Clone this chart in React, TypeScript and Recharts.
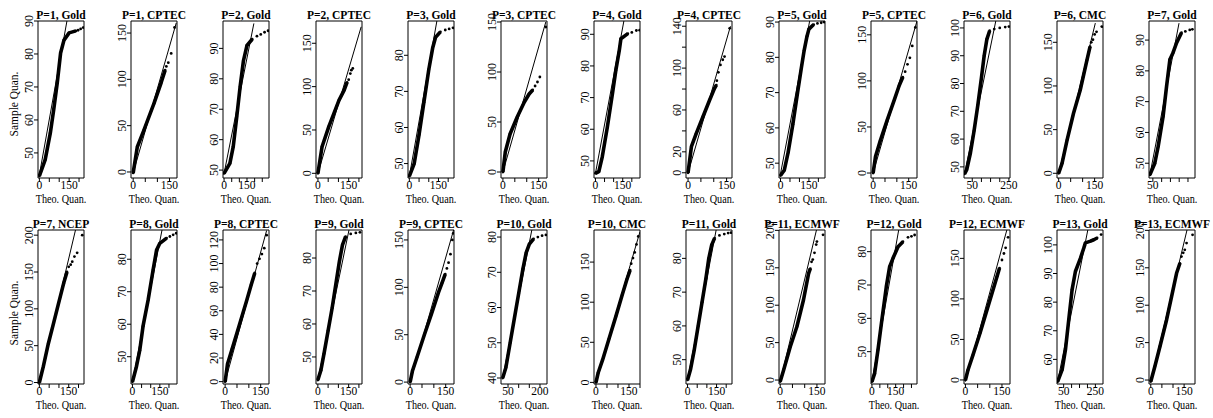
import React from "react";
import {
  ComposedChart,
  Scatter,
  XAxis,
  YAxis,
  ReferenceLine,
  ReferenceArea,
} from "recharts";

const titles = [
  "P=1, Gold", "P=1, CPTEC", "P=2, Gold", "P=2, CPTEC", "P=3, Gold", "P=3, CPTEC", "P=4, Gold",
  "P=4, CPTEC", "P=5, Gold", "P=5, CPTEC", "P=6, Gold", "P=6, CMC", "P=7, Gold",
  "P=7, NCEP", "P=8, Gold", "P=8, CPTEC", "P=9, Gold", "P=9, CPTEC", "P=10, Gold",
  "P=10, CMC", "P=11, Gold", "P=11, ECMWF", "P=12, Gold", "P=12, ECMWF", "P=13, Gold",
  "P=13, ECMWF",
];

const xDomains = [
  [-7, 225], [-9, 181], [-7, 294], [-9.5, 215], [-7, 230], [-8, 185], [-8, 245],
  [-8, 171], [-8, 235], [-9, 185], [5, 256], [-7, 185], [28, 290],
  [-7, 228], [-8, 244], [-9, 185], [-9, 215], [-9, 185], [17, 233],
  [-9, 200], [-8, 230], [-5, 183], [-6, 285], [-6, 183], [8, 298], [-8, 199],
];

const xTicks = [
  [0, 50, 100, 150, 200], [0, 50, 100, 150], [0, 50, 100, 150, 200, 250], [0, 50, 100, 150, 200],
  [0, 50, 100, 150, 200], [0, 50, 100, 150], [0, 50, 100, 150, 200], [0, 50, 100, 150],
  [0, 50, 100, 150, 200], [0, 50, 100, 150], [50, 100, 150, 200, 250], [0, 50, 100, 150],
  [50, 100, 150, 200, 250],
  [0, 50, 100, 150, 200], [0, 50, 100, 150, 200], [0, 50, 100, 150], [0, 50, 100, 150, 200],
  [0, 50, 100, 150], [50, 100, 150, 200], [0, 50, 100, 150, 200], [0, 50, 100, 150, 200],
  [0, 50, 100, 150], [0, 50, 100, 150, 200, 250], [0, 50, 100, 150], [50, 100, 150, 200, 250],
  [0, 50, 100, 150],
];

const xLabels = [
  [0, 150], [0, 150], [0, 150], [0, 150], [0, 150], [0, 150], [0, 150],
  [0, 150], [0, 150], [0, 150], [50, 250], [0, 150], [50],
  [0, 150], [0, 150], [0, 150], [0, 150], [0, 150], [50, 200],
  [0, 150], [0, 150], [0, 150], [0, 150], [0, 150], [50, 250], [0, 150],
];

const yDomains = [
  [42.4, 90], [-6.5, 163], [47.4, 99], [-5.4, 175.7], [46, 89.5], [-6, 151], [44.6, 94.2],
  [-5, 145], [45.8, 90.3], [-5.4, 165], [46, 102.5], [-5.4, 174.4], [45.2, 96.2],
  [-2, 207], [41.6, 89], [-2, 128.4], [41.8, 88.5], [-2, 160.5], [38.3, 82],
  [-2, 190], [42.8, 88.4], [-5.3, 200.5], [40.3, 86.5], [-5, 185], [51.4, 105.2],
  [-5.3, 200.5],
];

const yTicks = [
  [50, 60, 70, 80, 90], [0, 50, 100, 150], [50, 60, 70, 80, 90], [0, 50, 100, 150],
  [50, 60, 70, 80], [0, 50, 100, 150], [50, 60, 70, 80, 90],
  [0, 20, 40, 60, 80, 100, 120, 140], [50, 60, 70, 80, 90], [0, 50, 100, 150],
  [50, 60, 70, 80, 90, 100], [0, 50, 100, 150], [50, 60, 70, 80, 90],
  [0, 50, 100, 150, 200], [50, 60, 70, 80], [0, 20, 40, 60, 80, 100, 120], [50, 60, 70, 80],
  [0, 50, 100, 150], [40, 50, 60, 70, 80], [0, 50, 100, 150], [50, 60, 70, 80],
  [0, 50, 100, 150, 200], [50, 60, 70, 80], [0, 50, 100, 150], [60, 70, 80, 90, 100],
  [0, 50, 100, 150, 200],
];

// labels R kept on the y axis (the rest were dropped for overlap)
const yLabels = yTicks.map((t, i) => (i === 7 ? [0, 20, 60, 100, 140] : t));

// dense part of each sample-quantile curve
const curves = [
  [[0, 43], [29, 47.9], [55, 56], [72, 63], [90, 71.2], [107, 80.3], [124, 84.2], [150, 86.4], [184, 87]],
  [[0, -1], [17, 27], [44, 45], [86, 74], [115, 96], [132, 110]],
  [[0, 48.9], [38, 52.2], [60, 57.7], [83, 67.5], [105, 77.4], [127, 86], [150, 91], [184, 93]],
  [[0, 0], [20, 30.7], [53, 53.8], [103, 84.5], [128, 96], [142, 105]],
  [[0, 46.5], [25, 50], [50, 58], [75, 67], [100, 76], [120, 82], [135, 85], [160, 86.5]],
  [[0, 0], [10, 20], [30, 38], [60, 55], [90, 70], [110, 78], [125, 82]],
  [[0, 46.1], [18.5, 46.6], [37.5, 51.3], [65.7, 60.8], [93.8, 71.4], [112, 78.6], [131, 84.9], [140, 88.6], [178, 90.2]],
  [[0, 0], [13, 24.9], [32, 37.7], [58, 53.5], [84, 69.5], [103, 80.6], [110, 83.8]],
  [[0, 46.5], [20, 48], [40, 53], [65, 61], [90, 70], [110, 77], [125, 82], [140, 86], [150, 88], [175, 89.3]],
  [[0, 0], [10, 18], [30, 35], [60, 58], [90, 80], [110, 95], [125, 104]],
  [[8, 47.5], [20, 49], [40, 55], [60, 63], [80, 72], [100, 82], [115, 90], [130, 96], [145, 99]],
  [[0, 0], [14, 11.4], [35, 38], [62, 68.7], [90, 95.4], [118, 129.7], [131, 145]],
  [[33, 46.2], [61, 50], [80, 55.4], [108, 65.1], [128, 74.9], [147, 83.7], [165, 85.9], [185, 89.1], [213, 92.4]],
  [[0, 0], [20, 21.5], [46, 53], [72, 80], [98, 107.5], [124, 134.6], [141, 150]],
  [[0, 42.3], [22, 47], [40, 52], [58, 59.4], [86, 67.5], [113, 76.7], [132, 82.8], [150, 84.9], [187, 86.5]],
  [[0, 0], [10, 15], [30, 28], [60, 48], [90, 68], [110, 82], [125, 92]],
  [[0, 43], [15, 46], [30, 51], [50, 58], [70, 65], [90, 73], [105, 79], [120, 84], [135, 86.5]],
  [[0, 0], [10, 12], [30, 27], [60, 50], [90, 72], [120, 95], [135, 105], [148, 114]],
  [[25, 40], [40, 43], [60, 50], [80, 57], [100, 64], [120, 71], [135, 75.5], [150, 78], [170, 79.5]],
  [[0, 0], [10, 12], [30, 28], [60, 55], [90, 82], [120, 110], [140, 128], [155, 140]],
  [[0, 44], [15, 47], [35, 53], [55, 60], [75, 67], [95, 74], [110, 80], [125, 84], [140, 86]],
  [[0, -2], [14, 13.4], [41, 44.5], [68, 71.2], [95, 107], [116, 142.6], [123, 149]],
  [[0, 41], [17, 43.5], [38, 50.5], [60, 58.5], [91, 69.5], [112, 75.5], [133, 78], [165, 81.5], [196, 83]],
  [[0, 0], [10, 12], [30, 30], [60, 58], [90, 88], [115, 113], [130, 128], [140, 138]],
  [[12, 52.2], [40, 56.3], [61, 63.3], [82, 73.8], [103, 84.3], [124, 90.7], [156, 95.4], [177, 98.9], [187, 100.7], [219, 101.3], [240, 101.8], [261, 102.4]],
  [[0, -2], [18, 17.8], [41, 44.5], [71, 80.3], [93.6, 111.5], [116, 142.7], [131, 156]],
];

// sparse upper-tail points
const tails = [
  [[195, 87.2], [208, 87.6], [221, 88]],
  [[137, 114], [145, 118], [157, 128], [171, 156]],
  [[215, 94], [240, 94.6], [265, 95.3], [288, 95.8]],
  [[150, 108], [158, 115], [163, 119], [170, 121]],
  [[185, 87], [205, 87.3], [225, 87.6]],
  [[135, 86], [145, 90], [155, 95], [180, 145]],
  [[200, 90.6], [225, 91.2], [243, 91.3]],
  [[112, 88], [118, 96], [126, 103], [135, 108], [142, 111], [162, 138]],
  [[195, 89.6], [215, 89.8], [230, 90]],
  [[135, 110], [145, 118], [155, 125], [165, 138], [178, 158]],
  [[170, 99.6], [200, 100], [230, 100.3], [250, 100.5]],
  [[136, 150], [143, 153], [150, 159], [158, 162], [180, 168]],
  [[235, 92.8], [260, 93.3], [275, 93.5]],
  [[150, 157], [160, 160], [168, 164], [179, 171], [193, 176], [219, 200]],
  [[205, 87], [223, 87.5], [240, 88]],
  [[135, 100], [145, 104], [155, 108], [165, 113], [175, 124]],
  [[160, 87.3], [185, 87.6], [205, 87.8]],
  [[155, 120], [162, 126], [170, 135], [178, 150], [182, 157]],
  [[190, 80], [210, 80.4], [228, 80.6]],
  [[160, 148], [168, 155], [176, 162], [184, 172], [192, 182]],
  [[165, 86.8], [190, 87.2], [210, 87.5], [225, 87.6]],
  [[128, 158], [133, 161], [140, 170], [147, 181], [150, 185], [175, 194]],
  [[228, 84.3], [250, 84.6], [270, 85]],
  [[150, 148], [158, 156], [165, 163], [175, 176]],
  [[286, 103.6]],
  [[138, 165], [146, 170], [153, 174], [161, 183], [188, 194]],
];

// qqline end points
const refLines = [
  [[0, 43.4], [150, 93.7]], [[0, -1], [178, 161]], [[0, 48.9], [195, 98.2]], [[0, 0], [211, 169]],
  [[0, 46.5], [150, 92]], [[0, 0], [180, 150]], [[0, 46.1], [159, 95]], [[0, 0], [165, 140]],
  [[0, 47], [160, 92]], [[0, 0], [185, 165]], [[8, 47.5], [180, 103]], [[0, 0], [153, 172]],
  [[33, 46.2], [199, 95.5]],
  [[0, 0], [185, 207.5]], [[0, 42.3], [164, 89.6]], [[0, 0], [175, 128]], [[0, 43], [160, 91]],
  [[0, 0], [185, 162]], [[25, 40], [165, 83]], [[0, 0], [200, 188]], [[0, 44], [150, 89]],
  [[0, -2], [150, 203]], [[0, 41], [171, 87]], [[0, -2], [170, 185]], [[12, 52.2], [208, 106.8]],
  [[0, -2], [165, 203]],
];

const FONT = '"Liberation Serif", "DejaVu Serif", serif';
const toPts = (a: number[][]) => a.map(([x, y]) => ({ x, y }));
const dot = (p: any) => <circle cx={p.cx} cy={p.cy} r={1.4} fill="#000" />;

function Panel({ i }: { i: number }) {
  const row = Math.floor(i / 13);
  const col = i % 13;
  const h = row === 0 ? 209 : 206;
  const plotBottom = h - 31;
  const [x0, x1] = xDomains[i];
  const [y0, y1] = yDomains[i];
  const [[ax, ay], [bx, by]] = refLines[i];

  return (
    <div
      style={{
        position: "absolute",
        left: Math.round(col * 92.6),
        top: row * 209,
        width: 92,
        height: h,
        fontFamily: FONT,
      }}
    >
      <div
        style={{
          position: "absolute",
          left: 38,
          width: 46,
          top: 10,
          display: "flex",
          justifyContent: "center",
          whiteSpace: "nowrap",
          fontSize: 11.5,
          lineHeight: "10px",
          fontWeight: "bold",
        }}
      >
        {titles[i]}
      </div>
      {col === 0 && (
        <div
          style={{
            position: "absolute",
            left: 13,
            top: 104,
            transform: "translate(-50%, -50%) rotate(-90deg) scaleX(0.88)",
            whiteSpace: "nowrap",
            fontSize: 13,
            lineHeight: "11px",
          }}
        >
          Sample Quan.
        </div>
      )}
      <div
        style={{
          position: "absolute",
          left: 61,
          top: plotBottom + 15,
          transform: "translateX(-50%) scaleX(0.85)",
          whiteSpace: "nowrap",
          fontSize: 12,
          lineHeight: "12px",
        }}
      >
        Theo. Quan.
      </div>
      <ComposedChart
        width={92}
        height={h}
        margin={{ top: 21, right: 8, bottom: 0, left: 0 }}
      >
        <XAxis
          type="number"
          dataKey="x"
          domain={[x0, x1]}
          allowDataOverflow
          ticks={xTicks[i]}
          interval={0}
          height={31}
          tickSize={4}
          tickMargin={0}
          axisLine={false}
          stroke="#000"
          tick={(p: any) =>
            xLabels[i].includes(p.payload.value) ? (
              <text
                x={p.x}
                y={p.y - 1}
                dy="0.71em"
                textAnchor="middle"
                fontSize={11.5}
                fontFamily={FONT}
                fill="#000"
              >
                {p.payload.value}
              </text>
            ) : (
              <g />
            )
          }
        />
        <YAxis
          type="number"
          dataKey="y"
          domain={[y0, y1]}
          allowDataOverflow
          ticks={yTicks[i]}
          interval={0}
          width={38}
          tickSize={4}
          tickMargin={1}
          axisLine={false}
          stroke="#000"
          tick={(p: any) =>
            yLabels[i].includes(p.payload.value) ? (
              <text
                x={p.x}
                y={p.y}
                transform={`rotate(-90 ${p.x} ${p.y})`}
                textAnchor="middle"
                fontSize={12}
                fontFamily={FONT}
                fill="#000"
              >
                {p.payload.value}
              </text>
            ) : (
              <g />
            )
          }
        />
        <ReferenceArea
          x1={x0}
          x2={x1}
          y1={y0}
          y2={y1}
          fill="none"
          stroke="#000"
          strokeWidth={1}
          ifOverflow="visible"
        />
        <ReferenceLine
          segment={[
            { x: ax, y: ay },
            { x: bx, y: by },
          ]}
          stroke="#000"
          strokeWidth={1}
          ifOverflow="hidden"
        />
        <Scatter
          data={toPts(curves[i])}
          line={{ stroke: "#000", strokeWidth: 3.6, strokeLinejoin: "round" }}
          shape={dot}
          isAnimationActive={false}
        />
        <Scatter data={toPts(tails[i])} shape={dot} isAnimationActive={false} />
      </ComposedChart>
    </div>
  );
}

export default function App() {
  return (
    <div
      style={{
        position: "absolute",
        left: 0,
        top: 0,
        width: 1213,
        height: 418,
        background: "#fff",
        overflow: "hidden",
      }}
    >
      {titles.map((_, i) => (
        <Panel key={i} i={i} />
      ))}
    </div>
  );
}
